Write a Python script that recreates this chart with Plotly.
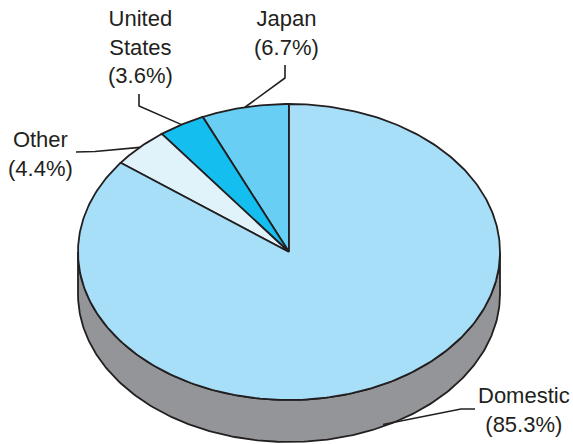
import numpy as np
import plotly.graph_objects as go

# ---- data ----
labels = ["Japan", "United States", "Other", "Domestic"]
label_lines = [["Japan", "(6.7%)"], ["United", "States", "(3.6%)"], ["Other", "(4.4%)"], ["Domestic", "(85.3%)"]]
shares = [6.7, 3.6, 4.4, 85.3]
top_colors = ["#68CEF3", "#14BEEE", "#E0F3FB", "#A8DFF8"]
side_color = "#939598"
edge = "#231F20"

# ---- geometry (pixel space) ----
W, H = 573, 444
cx, cy, rx, ry, depth = 289, 252, 211, 148, 42

def pt(theta, dy=0.0):
    # theta in radians, 0 = 12 o'clock, increasing counter-clockwise
    return cx - rx * np.sin(theta), cy + dy - ry * np.cos(theta)

total = sum(shares)
bounds = np.concatenate([[0], np.cumsum(shares)]) / total * 2 * np.pi

fig = go.Figure()

# side wall (front half: 90deg..270deg)
for i in range(len(shares)):
    a0, a1 = max(bounds[i], np.pi / 2), min(bounds[i + 1], 3 * np.pi / 2)
    if a1 <= a0:
        continue
    t = np.linspace(a0, a1, 200)
    xt, yt = pt(t)
    xb, yb = pt(t[::-1], depth)
    fig.add_trace(go.Scatter(
        x=np.concatenate([xt, xb, xt[:1]]), y=np.concatenate([yt, yb, yt[:1]]),
        mode="lines", fill="toself", fillcolor=side_color,
        line=dict(color=edge, width=1.8), hoverinfo="skip", showlegend=False))

# top slices
for i, name in enumerate(labels):
    t = np.linspace(bounds[i], bounds[i + 1], max(20, int(400 * shares[i] / total)))
    xa, ya = pt(t)
    fig.add_trace(go.Scatter(
        x=np.concatenate([[cx], xa, [cx]]), y=np.concatenate([[cy], ya, [cy]]),
        mode="lines", fill="toself", fillcolor=top_colors[i],
        line=dict(color=edge, width=1.8), name=name, hoverinfo="name", showlegend=False))

# leader lines: label anchor (elbow) -> slice midpoint on rim
mids = (bounds[:-1] + bounds[1:]) / 2
elbows = [
    [(285, 65), (285, 78)],
    [(139, 94), (139, 106)],
    [(76, 152), (95, 151.5)],
    [(475, 409), (461, 409)],
]
for i in range(len(shares)):
    if mids[i] > np.pi / 2 and mids[i] < 3 * np.pi / 2:
        ex, ey = pt(mids[i], depth - 2)
    else:
        ex, ey = pt(mids[i])
    xs = [p[0] for p in elbows[i]] + [ex]
    ys = [p[1] for p in elbows[i]] + [ey]
    fig.add_trace(go.Scatter(x=xs, y=ys, mode="lines", line=dict(color=edge, width=1.6),
                             hoverinfo="skip", showlegend=False))

# labels
label_pos = [(286, 33), (140, 47), (40, 154), (524, 410)]
for i in range(len(shares)):
    fig.add_annotation(x=label_pos[i][0], y=label_pos[i][1], text="<br>".join(label_lines[i]),
                       showarrow=False, xanchor="center", yanchor="middle", align="center",
                       font=dict(family="Liberation Sans, Arial, sans-serif", size=22, color=edge))

fig.update_xaxes(range=[0, W], visible=False, fixedrange=True)
fig.update_yaxes(range=[H, 0], visible=False, fixedrange=True)
fig.update_layout(width=W, height=H, margin=dict(l=0, r=0, t=0, b=0),
                  plot_bgcolor="white", paper_bgcolor="white")
fig.write_html("out.html", config={"displayModeBar": False},
               post_script="document.body.style.margin='0';document.body.style.padding='0';")
